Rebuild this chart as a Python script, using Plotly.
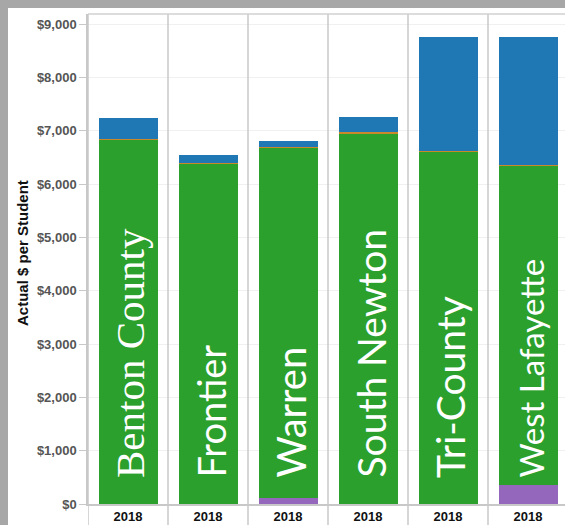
import plotly.graph_objects as go

districts = ["Benton County", "Frontier", "Warren", "South Newton", "Tri-County", "West Lafayette"]
years = ["2018"] * 6
purple_vals = [0, 0, 120, 0, 0, 350]
green_vals = [6835, 6385, 6565, 6955, 6605, 5995]
orange_vals = [15, 15, 15, 15, 15, 15]
blue_vals = [390, 150, 100, 280, 2130, 2390]
label_fonts = ["Liberation Serif", "Lato", "Lato", "Lato", "Lato", "Lato"]
label_sizes = [41, 38, 40, 39, 39, 33]

y_ticks = [0, 1000, 2000, 3000, 4000, 5000, 6000, 7000, 8000, 9000]
y_ticktext = ["$0", "$1,000", "$2,000", "$3,000", "$4,000", "$5,000", "$6,000", "$7,000", "$8,000", "$9,000"]

# figure sits at (8, 8) in the 565x525 window; the gray frame is the page background
OFF = 8
W, H = 565 - OFF, 525 - OFF
ML, MR, MT, MB = 80, 0, 6, 21
PW = W - ML - MR
PH = H - MT - MB

def px_x(px):
    return (px - ML) / PW

def px_y(py):
    return (H - MB - py) / PH

xs = list(range(len(districts)))
bar_w = 0.7375

fig = go.Figure()
for name, vals, col in [("Purple", purple_vals, "#9467bd"),
                        ("Green", green_vals, "#2ca02c"),
                        ("Orange", orange_vals, "#c9892a"),
                        ("Blue", blue_vals, "#1f77b4")]:
    fig.add_trace(go.Bar(x=xs, y=vals, name=name, marker=dict(color=col, line=dict(width=0)),
                         width=bar_w, showlegend=False, hoverinfo="skip"))

shapes = []
for i in range(len(districts)):
    shapes.append(dict(type="line", xref="x", yref="paper", x0=i - 0.5, x1=i - 0.5,
                       y0=px_y(H), y1=1, line=dict(color="#c8c8c8", width=1.5), layer="above"))
shapes.append(dict(type="line", xref="paper", yref="paper", x0=0, x1=1, y0=1, y1=1,
                   line=dict(color="#d0d0d0", width=1.5)))

annotations = []
for i, d in enumerate(districts):
    annotations.append(dict(x=i, y=0, xref="x", yref="y", text=d, showarrow=False,
                            textangle=-90, xanchor="center", yanchor="bottom", yshift=24, xshift=2,
                            font=dict(family=label_fonts[i], size=label_sizes[i], color="white")))
annotations.append(dict(x=px_x(23 - OFF), y=px_y(253 - OFF), xref="paper", yref="paper",
                        xanchor="center", yanchor="middle",
                        text="Actual $ per Student", showarrow=False, textangle=-90,
                        font=dict(family="Liberation Sans", size=15, color="#111", weight="bold")))

fig.update_layout(
    width=W, height=H,
    margin=dict(l=ML, r=MR, t=MT, b=MB),
    paper_bgcolor="white", plot_bgcolor="white",
    barmode="stack",
    shapes=shapes, annotations=annotations,
    xaxis=dict(range=[-0.5, -0.5 + PW / 80], tickvals=xs, ticktext=years, showgrid=False,
               zeroline=False, showline=True, linecolor="#c8c8c8", linewidth=1.5, ticks="",
               tickfont=dict(family="Liberation Sans", size=13, color="#111", weight="bold")),
    yaxis=dict(range=[0, 9000 + 10 / (480 / 9000)], tickvals=y_ticks, ticktext=y_ticktext,
               showgrid=True, gridcolor="#f0f0f0", zeroline=False, showline=True,
               linecolor="#c8c8c8", linewidth=1.5, ticks="outside", ticklen=7, tickcolor="#c8c8c8",
               tickfont=dict(family="Liberation Sans", size=13, color="#555", weight="bold")),
)

fig.write_html("out.html", config={"displayModeBar": False},
               post_script="document.body.style.margin='8px 0px 0px 8px';"
                           "document.body.style.padding='0px';"
                           "document.body.style.background='#a7a7a7';"
                           "document.documentElement.style.background='#a7a7a7';"
                           "document.documentElement.style.overflow='hidden';")
